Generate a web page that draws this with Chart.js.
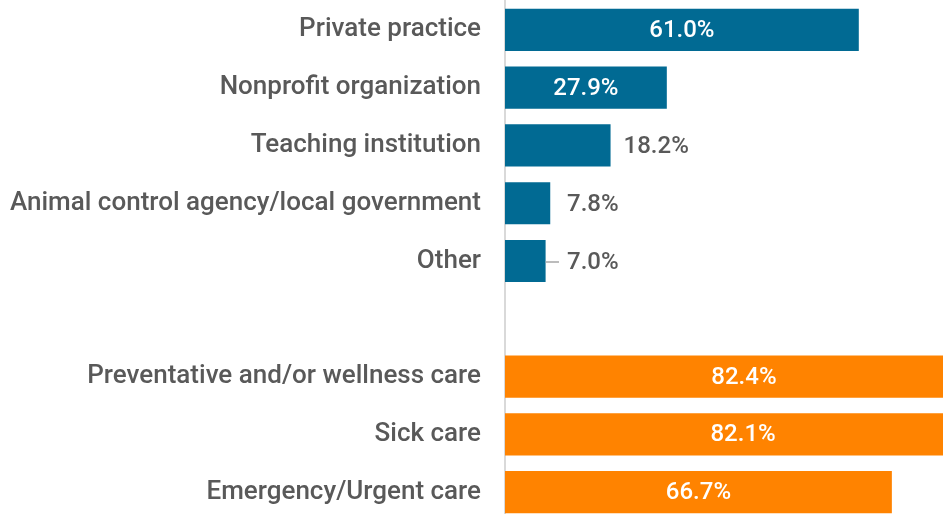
<!DOCTYPE html>
<html>
<head>
<meta charset="utf-8">
<script src="https://cdn.jsdelivr.net/npm/chart.js@4.4.1/dist/chart.umd.min.js"></script>
<style>
  html, body { margin: 0; padding: 0; background: #fff; overflow: hidden; }
  #wrap { position: relative; width: 1000px; height: 521px; }
</style>
</head>
<body>
<div id="wrap"><canvas id="chart"></canvas></div>
<script>
// Categories top to bottom; the empty string is the spacer row between groups
const categories = [
  'Private practice',
  'Nonprofit organization',
  'Teaching institution',
  'Animal control agency/local government',
  'Other',
  '',
  'Preventative and/or wellness care',
  'Sick care',
  'Emergency/Urgent care'
];

// Practice setting (blue) and services offered (orange), percent
const settingValues = [61.0, 27.9, 18.2, 7.8, 7.0, null, null, null, null];
const serviceValues = [null, null, null, null, null, null, 82.4, 82.1, 66.7];

const BLUE = '#016a93';
const ORANGE = '#ff8300';
const LABEL_GREY = '#595959';
const FONT = 'Roboto, "Liberation Sans", sans-serif';

// draws the percent labels: inside (white) when they fit, outside (grey) otherwise
const valueLabels = {
  id: 'valueLabels',
  afterDatasetsDraw(chart) {
    const ctx = chart.ctx;
    const xScale = chart.scales.x;
    const minOutside = xScale.getPixelForValue(0) + 62;
    ctx.save();
    ctx.font = '500 24px ' + FONT;
    ctx.textBaseline = 'middle';
    chart.data.datasets.forEach((ds, di) => {
      const meta = chart.getDatasetMeta(di);
      meta.data.forEach((bar, i) => {
        const v = ds.data[i];
        if (v === null || v === undefined) return;
        const txt = v.toFixed(1) + '%';
        const w = ctx.measureText(txt).width;
        const barW = bar.x - bar.base;
        if (barW > w + 50) {
          ctx.fillStyle = '#ffffff';
          ctx.textAlign = 'center';
          ctx.fillText(txt, (bar.x + bar.base) / 2, bar.y + 1);
        } else {
          const lx = Math.max(bar.x + 13, minOutside);
          if (lx - bar.x > 20) {
            // leader line for a nudged label
            ctx.strokeStyle = '#a6a6a6';
            ctx.lineWidth = 1.5;
            ctx.beginPath();
            ctx.moveTo(bar.x, bar.y + 1);
            ctx.lineTo(lx - 8, bar.y + 1);
            ctx.stroke();
          }
          ctx.fillStyle = LABEL_GREY;
          ctx.textAlign = 'left';
          ctx.fillText(txt, lx, bar.y + 2);
        }
      });
    });
    ctx.restore();
  }
};

new Chart(document.getElementById('chart'), {
  type: 'bar',
  data: {
    labels: categories,
    datasets: [
      {
        label: 'Practice setting',
        data: settingValues,
        backgroundColor: BLUE,
        grouped: false,
        categoryPercentage: 1,
        barPercentage: 0.73
      },
      {
        label: 'Services offered',
        data: serviceValues,
        backgroundColor: ORANGE,
        grouped: false,
        categoryPercentage: 1,
        barPercentage: 0.73
      }
    ]
  },
  options: {
    indexAxis: 'y',
    responsive: true,
    maintainAspectRatio: false,
    animation: false,
    layout: { padding: { left: 0, right: 2, top: 1, bottom: 0 } },
    plugins: {
      legend: { display: false },
      tooltip: { enabled: false }
    },
    scales: {
      x: {
        display: false,
        min: 0,
        max: 85
      },
      y: {
        afterFit(scale) {
          scale.width = 505;
          scale.paddingTop = 0;
          scale.paddingBottom = 0;
        },
        grid: { display: false, drawTicks: false },
        border: { display: true, color: '#d9d9d9', width: 2 },
        ticks: {
          color: LABEL_GREY,
          padding: 24,
          font: { family: FONT, size: 26, weight: '500' }
        }
      }
    }
  },
  plugins: [valueLabels]
});
</script>
</body>
</html>
